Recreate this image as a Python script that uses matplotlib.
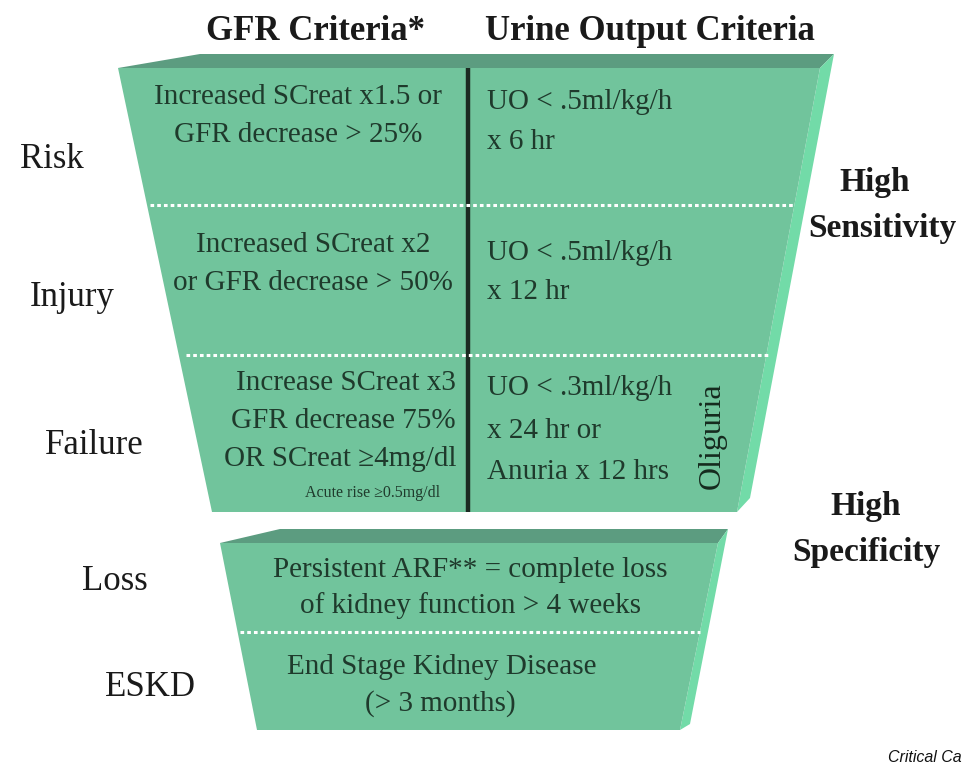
import matplotlib.pyplot as plt
from matplotlib.patches import Polygon

# RIFLE-Kriterien
stufen = ['Risk', 'Injury', 'Failure', 'Loss', 'ESKD']
stufen_y = [160, 298, 445, 582, 688]
stufen_x = [20, 30, 45, 82, 105]

gfr_texte = [
    ['Increased SCreat x1.5 or', 'GFR decrease > 25%'],
    ['Increased SCreat x2', 'or GFR decrease > 50%'],
    ['Increase SCreat x3', 'GFR decrease 75%', 'OR SCreat \u22654mg/dl'],
]
uo_texte = [
    ['UO < .5ml/kg/h', 'x 6 hr'],
    ['UO < .5ml/kg/h', 'x 12 hr'],
    ['UO < .3ml/kg/h', 'x 24 hr or', 'Anuria x 12 hrs'],
]
unten_texte = ['Persistent ARF** = complete loss', 'of kidney function > 4 weeks',
               'End Stage Kidney Disease', '(> 3 months)']

gruen = '#71c49c'
gruen_dunkel = '#5c9c80'
gruen_hell = '#72dba8'
schrift = '#1f3a2c'

plt.rcParams['font.family'] = ['Liberation Serif', 'DejaVu Serif']

fig = plt.figure(figsize=(9.64, 7.63), dpi=100)
ax = fig.add_axes([0, 0, 1, 1])
ax.set_xlim(0, 964)
ax.set_ylim(763, 0)
ax.axis('off')

# oberer Block
ax.add_patch(Polygon([(118, 68), (200, 54), (834, 54), (820, 68)], closed=True, color=gruen_dunkel, lw=0))
ax.add_patch(Polygon([(820, 68), (834, 54), (750, 498), (737, 512)], closed=True, color=gruen_hell, lw=0))
ax.add_patch(Polygon([(118, 68), (820, 68), (737, 512), (212, 512)], closed=True, color=gruen, lw=0))
ax.plot([468, 468], [68, 512], color='#1c2a22', lw=3.2, solid_capstyle='butt')
ax.plot([150, 795], [205, 205], color='white', lw=2.2, ls=(0, (1.2, 1.0)))
ax.plot([186, 768], [355, 355], color='white', lw=2.2, ls=(0, (1.2, 1.0)))

# unterer Block
ax.add_patch(Polygon([(220, 543), (280, 529), (728, 529), (718, 543)], closed=True, color=gruen_dunkel, lw=0))
ax.add_patch(Polygon([(718, 543), (728, 529), (690, 724), (680, 730)], closed=True, color=gruen_hell, lw=0))
ax.add_patch(Polygon([(220, 543), (718, 543), (680, 730), (257, 730)], closed=True, color=gruen, lw=0))
ax.plot([240, 700], [632, 632], color='white', lw=2.2, ls=(0, (1.2, 1.0)))

# Kopfzeilen
ax.text(315, 32, 'GFR Criteria*', fontsize=25, fontweight='bold', ha='center', va='center', color='#1a1a1a')
ax.text(650, 32, 'Urine Output Criteria', fontsize=25, fontweight='bold', ha='center', va='center', color='#1a1a1a')

# Stufen links
for name, x, y in zip(stufen, stufen_x, stufen_y):
    ax.text(x, y, name, fontsize=25, ha='left', va='center', color='#1a1a1a')

# GFR-Spalte
zeilen_y = [[97, 135], [245, 283], [383, 421, 459]]
for i, zeilen in enumerate(gfr_texte):
    for z, y in zip(zeilen, zeilen_y[i]):
        if i < 2:
            mx = 298 if i == 0 else 313
            ax.text(mx, y, z, fontsize=21, ha='center', va='center', color=schrift)
        else:
            ax.text(456, y, z, fontsize=21, ha='right', va='center', color=schrift)
ax.text(440, 493, 'Acute rise \u22650.5mg/dl', fontsize=11.5, ha='right', va='center', color=schrift)

# Urin-Spalte
uo_y = [[102, 142], [253, 292], [388, 431, 472]]
for zeilen, ys in zip(uo_texte, uo_y):
    for z, y in zip(zeilen, ys):
        ax.text(487, y, z, fontsize=21, ha='left', va='center', color=schrift)
ax.text(712, 436, 'Oliguria', fontsize=23, rotation=90, ha='center', va='center', color='#152a1e')

# unterer Text
for z, x, y in zip(unten_texte, [470, 470, 442, 440], [570, 606, 667, 704]):
    ax.text(x, y, z, fontsize=21, ha='center', va='center', color=schrift)

# rechts
ax.text(875, 182, 'High', fontsize=24, fontweight='bold', ha='center', va='center', color='#1a1a1a')
ax.text(882, 228, 'Sensitivity', fontsize=24, fontweight='bold', ha='center', va='center', color='#1a1a1a')
ax.text(866, 506, 'High', fontsize=24, fontweight='bold', ha='center', va='center', color='#1a1a1a')
ax.text(866, 552, 'Specificity', fontsize=24, fontweight='bold', ha='center', va='center', color='#1a1a1a')

# Quelle (im Original am Rand abgeschnitten)
ax.text(962, 757, 'Critical Ca', fontsize=11.5, style='italic', family=['Liberation Sans', 'DejaVu Sans'],
        ha='right', va='center', color='#111111')

fig.savefig('out.png', dpi=100)
